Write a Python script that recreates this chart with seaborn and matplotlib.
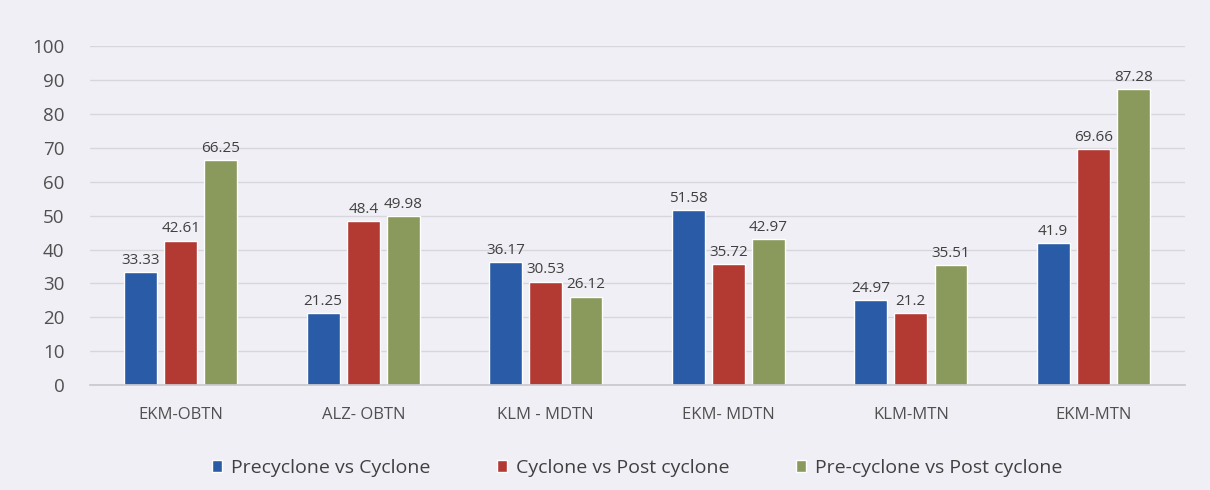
import matplotlib
matplotlib.use("Agg")
import matplotlib.pyplot as plt
import seaborn as sns
import pandas as pd

categories = ["EKM-OBTN", "ALZ- OBTN", "KLM - MDTN", "EKM- MDTN", "KLM-MTN", "EKM-MTN"]
series_names = ["Precyclone vs Cyclone", "Cyclone vs Post cyclone", "Pre-cyclone vs Post cyclone"]
precyclone_vs_cyclone = [33.33, 21.25, 36.17, 51.58, 24.97, 41.9]
cyclone_vs_post = [42.61, 48.4, 30.53, 35.72, 21.2, 69.66]
pre_vs_post = [66.25, 49.98, 26.12, 42.97, 35.51, 87.28]
label_texts = [
    ["33.33", "21.25", "36.17", "51.58", "24.97", "41.9"],
    ["42.61", "48.4", "30.53", "35.72", "21.2", "69.66"],
    ["66.25", "49.98", "26.12", "42.97", "35.51", "87.28"],
]
yticks = [0, 10, 20, 30, 40, 50, 60, 70, 80, 90, 100]
colors = ["#2A5BA6", "#B33A33", "#8A9A5C"]

df = pd.DataFrame({
    "site": categories * 3,
    "series": [s for s in series_names for _ in categories],
    "value": precyclone_vs_cyclone + cyclone_vs_post + pre_vs_post,
})

sns.set_theme(style="white")
plt.rcParams["font.family"] = ["Open Sans", "DejaVu Sans"]

bg = "#F0EFF5"
fig = plt.figure(figsize=(12.1, 4.9), dpi=100, facecolor=bg)
ax = fig.add_axes([0.074, 0.214, 0.905, 0.692])
ax.set_facecolor(bg)

sns.barplot(data=df, x="site", y="value", hue="series", palette=colors,
            width=0.66, gap=0.18, ax=ax, legend=True, saturation=1)

for cont, texts in zip(ax.containers, label_texts):
    ax.bar_label(cont, labels=texts, padding=3, fontsize=11, color="#404040")

ax.set_ylim(0, 100)
ax.set_yticks(yticks)
ax.set_xlim(-0.5, len(categories) - 0.5)
ax.yaxis.grid(True, color="#D6D6DC", linewidth=1)
ax.set_axisbelow(True)
for side in ["top", "right", "left"]:
    ax.spines[side].set_visible(False)
ax.spines["bottom"].set_color("#C8C8CE")
ax.tick_params(axis="y", labelsize=13.5, colors="#505050", length=0, pad=18)
ax.tick_params(axis="x", labelsize=12, colors="#505050", length=0, pad=16)
ax.set_xlabel("")
ax.set_ylabel("")

handles, labels = ax.get_legend_handles_labels()
ax.legend(handles, labels, loc="upper center", bbox_to_anchor=(0.5, -0.165),
          ncol=3, frameon=False, fontsize=14, handlelength=0.55, handleheight=0.55,
          handletextpad=0.45, columnspacing=3.4, labelcolor="#404040")

fig.savefig("out.png", dpi=100, facecolor=bg)
